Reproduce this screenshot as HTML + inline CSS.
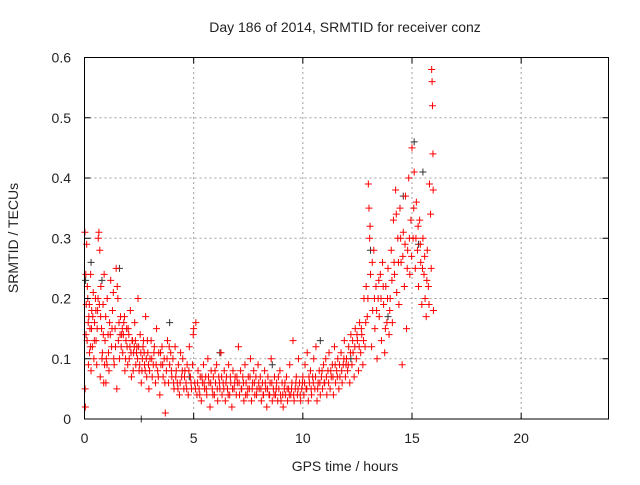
<!DOCTYPE html>
<html><head><meta charset="utf-8"><style>
body{margin:0;background:#fff}
svg text{font-family:"Liberation Sans",sans-serif;font-size:14px;fill:#222}
</style></head><body>
<svg id="chart" width="640" height="480" xmlns="http://www.w3.org/2000/svg">
<text x="345" y="32" text-anchor="middle">Day 186 of 2014, SRMTID for receiver conz</text>
<text transform="translate(18,238) rotate(-90)" text-anchor="middle">SRMTID / TECUs</text>
<text x="345" y="471" text-anchor="middle">GPS time / hours</text>
<g id="grid"></g>
<g id="darkpts"></g>
<g id="redpts"></g>
<rect x="84.5" y="57.5" width="524" height="361.5" fill="none" stroke="#000" stroke-width="1"/>
<g id="ticks"></g>
</svg>
<script>
const xTicks=[0,5,10,15,20];
const yTicks=[0,0.1,0.2,0.3,0.4,0.5,0.6];
const yTickLabels=["0","0.1","0.2","0.3","0.4","0.5","0.6"];
const redSamples=[[0.02,0.31],[0.04,0.02],[0.06,0.24],[0.08,0.19],[0.1,0.29],[0.12,0.13],[0.15,0.2],[0.18,0.09],[0.2,0.17],[0.23,0.11],[0.25,0.15],[0.28,0.24],[0.3,0.08],[0.33,0.18],[0.36,0.12],[0.4,0.21],[0.43,0.1],[0.46,0.16],[0.5,0.2],[0.53,0.13],[0.56,0.09],[0.6,0.18],[0.63,0.3],[0.66,0.31],[0.7,0.28],[0.72,0.07],[0.75,0.22],[0.78,0.15],[0.82,0.11],[0.85,0.19],[0.88,0.06],[0.9,0.24],[0.94,0.13],[0.97,0.17],
[1.0,0.1],[1.04,0.2],[1.08,0.14],[1.12,0.08],[1.15,0.16],[1.2,0.23],[1.24,0.12],[1.28,0.18],[1.32,0.21],[1.36,0.09],[1.4,0.15],[1.45,0.25],[1.5,0.22],[1.55,0.13],[1.6,0.1],[1.65,0.17],[1.7,0.14],[1.75,0.11],[1.8,0.16],[1.85,0.08],[1.9,0.13],[1.95,0.12],
[2.0,0.15],[2.05,0.1],[2.1,0.18],[2.15,0.07],[2.2,0.13],[2.25,0.11],[2.3,0.16],[2.35,0.09],[2.4,0.12],[2.45,0.2],[2.5,0.08],[2.55,0.14],[2.6,0.06],[2.65,0.1],[2.7,0.13],[2.75,0.09],[2.8,0.17],[2.85,0.07],[2.9,0.11],[2.95,0.05],
[3.0,0.1],[3.05,0.13],[3.1,0.07],[3.15,0.09],[3.2,0.12],[3.25,0.06],[3.3,0.15],[3.35,0.08],[3.4,0.11],[3.45,0.04],[3.5,0.09],[3.55,0.12],[3.6,0.07],[3.65,0.1],[3.7,0.01],[3.75,0.08],[3.8,0.13],[3.85,0.06],[3.9,0.09],[3.95,0.11],
[4.0,0.07],[4.05,0.1],[4.1,0.05],[4.15,0.12],[4.2,0.08],[4.25,0.06],[4.3,0.09],[4.35,0.04],[4.4,0.11],[4.45,0.07],[4.5,0.1],[4.55,0.05],[4.6,0.08],[4.65,0.06],[4.7,0.09],[4.75,0.04],[4.8,0.12],[4.85,0.07],[4.9,0.05],[4.95,0.09],
[5.0,0.15],[5.05,0.06],[5.1,0.16],[5.15,0.04],[5.2,0.08],[5.25,0.05],[5.3,0.07],[5.35,0.03],[5.4,0.06],[5.45,0.09],[5.5,0.05],[5.55,0.07],[5.6,0.04],[5.65,0.1],[5.7,0.06],[5.75,0.02],[5.8,0.08],[5.85,0.05],[5.9,0.07],[5.95,0.04],
[6.0,0.06],[6.05,0.09],[6.1,0.03],[6.15,0.07],[6.2,0.05],[6.25,0.11],[6.3,0.04],[6.35,0.06],[6.4,0.08],[6.45,0.03],[6.5,0.07],[6.55,0.05],[6.6,0.09],[6.65,0.04],[6.7,0.06],[6.75,0.02],[6.8,0.08],[6.85,0.05],[6.9,0.07],[6.95,0.04],
[7.0,0.06],[7.05,0.12],[7.1,0.04],[7.15,0.08],[7.2,0.05],[7.25,0.07],[7.3,0.03],[7.35,0.09],[7.4,0.06],[7.45,0.04],[7.5,0.07],[7.55,0.05],[7.6,0.1],[7.65,0.03],[7.7,0.06],[7.75,0.08],[7.8,0.04],[7.85,0.07],[7.9,0.05],[7.95,0.09],
[8.0,0.05],[8.05,0.07],[8.1,0.03],[8.15,0.06],[8.2,0.04],[8.25,0.08],[8.3,0.05],[8.35,0.02],[8.4,0.07],[8.45,0.04],[8.5,0.06],[8.55,0.1],[8.6,0.03],[8.65,0.05],[8.7,0.07],[8.75,0.04],[8.8,0.06],[8.85,0.03],[8.9,0.05],[8.95,0.08],
[9.0,0.03],[9.05,0.06],[9.1,0.02],[9.15,0.05],[9.2,0.04],[9.25,0.07],[9.3,0.03],[9.35,0.05],[9.4,0.09],[9.45,0.04],[9.5,0.06],[9.55,0.13],[9.6,0.03],[9.65,0.05],[9.7,0.07],[9.75,0.04],[9.8,0.1],[9.85,0.06],[9.9,0.03],[9.95,0.05],
[10.0,0.07],[10.05,0.04],[10.1,0.09],[10.15,0.05],[10.2,0.11],[10.25,0.03],[10.3,0.06],[10.35,0.08],[10.4,0.04],[10.45,0.07],[10.5,0.1],[10.55,0.05],[10.6,0.12],[10.65,0.03],[10.7,0.06],[10.75,0.08],[10.8,0.04],[10.85,0.07],[10.9,0.05],[10.95,0.09],
[11.0,0.06],[11.05,0.1],[11.1,0.04],[11.15,0.08],[11.2,0.11],[11.25,0.05],[11.3,0.07],[11.35,0.09],[11.4,0.04],[11.45,0.12],[11.5,0.06],[11.55,0.08],[11.6,0.1],[11.65,0.05],[11.7,0.07],[11.75,0.11],[11.8,0.06],[11.85,0.09],[11.9,0.13],[11.95,0.07],
[12.0,0.1],[12.05,0.08],[12.1,0.12],[12.15,0.06],[12.2,0.14],[12.25,0.09],[12.3,0.11],[12.35,0.07],[12.4,0.15],[12.45,0.1],[12.5,0.13],[12.55,0.08],[12.6,0.16],[12.65,0.11],[12.7,0.14],[12.75,0.09],[12.8,0.2],[12.85,0.12],[12.9,0.22],[12.95,0.17],
[13.0,0.39],[13.03,0.35],[13.06,0.3],[13.1,0.24],[13.15,0.12],[13.2,0.18],[13.25,0.28],[13.3,0.15],[13.35,0.22],[13.4,0.1],[13.45,0.2],[13.5,0.17],[13.55,0.24],[13.6,0.13],[13.65,0.26],[13.7,0.19],[13.75,0.11],[13.8,0.22],[13.85,0.16],[13.9,0.25],[13.95,0.14],
[14.0,0.2],[14.05,0.28],[14.1,0.16],[14.15,0.33],[14.2,0.24],[14.25,0.38],[14.3,0.21],[14.35,0.3],[14.4,0.19],[14.45,0.35],[14.5,0.26],[14.55,0.09],[14.6,0.31],[14.65,0.22],[14.7,0.37],[14.75,0.15],[14.8,0.28],[14.85,0.4],[14.9,0.24],[14.95,0.33],
[15.0,0.45],[15.05,0.3],[15.1,0.41],[15.15,0.25],[15.2,0.36],[15.25,0.28],[15.3,0.22],[15.35,0.33],[15.4,0.26],[15.45,0.19],[15.5,0.3],[15.55,0.24],[15.6,0.2],[15.65,0.17],[15.7,0.28],[15.75,0.22],[15.8,0.39],[15.85,0.34],[15.9,0.58],[15.92,0.56],[15.94,0.52],[15.96,0.44],[15.98,0.18]];
const redSamplesB=[[0.03,0.05],[0.07,0.14],[0.13,0.22],[0.17,0.16],[0.22,0.19],[0.27,0.12],[0.32,0.15],[0.38,0.17],[0.45,0.13],[0.52,0.18],[0.58,0.15],[0.62,0.2],[0.68,0.19],[0.74,0.17],[0.8,0.1],[0.86,0.14],[0.92,0.09],[0.98,0.06],
[1.03,0.09],[1.1,0.11],[1.18,0.14],[1.26,0.15],[1.34,0.1],[1.42,0.12],[1.48,0.05],[1.53,0.2],[1.58,0.16],[1.63,0.14],[1.68,0.12],[1.73,0.15],[1.78,0.14],[1.83,0.17],[1.88,0.1],[1.93,0.15],[1.98,0.09],
[2.03,0.14],[2.08,0.12],[2.13,0.11],[2.18,0.13],[2.23,0.08],[2.28,0.12],[2.33,0.13],[2.38,0.11],[2.43,0.1],[2.48,0.12],[2.53,0.09],[2.58,0.11],[2.63,0.08],[2.68,0.12],[2.73,0.11],[2.78,0.08],[2.83,0.1],[2.88,0.13],[2.93,0.09],[2.98,0.08],
[3.08,0.1],[3.18,0.11],[3.28,0.09],[3.38,0.07],[3.48,0.11],[3.58,0.09],[3.68,0.06],[3.78,0.1],[3.88,0.12],[3.98,0.08],[4.08,0.06],[4.18,0.07],[4.28,0.05],[4.38,0.06],[4.48,0.08],[4.58,0.07],[4.68,0.05],[4.78,0.08],[4.88,0.06],[4.98,0.14],
[5.08,0.05],[5.18,0.06],[5.28,0.04],[5.38,0.07],[5.48,0.06],[5.58,0.05],[5.68,0.07],[5.78,0.06],[5.88,0.04],[5.98,0.08],[6.08,0.05],[6.18,0.06],[6.28,0.07],[6.38,0.05],[6.48,0.06],[6.58,0.04],[6.68,0.07],[6.78,0.05],[6.88,0.06],[6.98,0.07],
[7.08,0.06],[7.18,0.05],[7.28,0.06],[7.38,0.04],[7.48,0.05],[7.58,0.07],[7.68,0.05],[7.78,0.06],[7.88,0.04],[7.98,0.06],[8.08,0.05],[8.18,0.04],[8.28,0.06],[8.38,0.05],[8.48,0.04],[8.58,0.06],[8.68,0.04],[8.78,0.05],[8.88,0.07],[8.98,0.04],
[9.08,0.04],[9.18,0.06],[9.28,0.05],[9.38,0.04],[9.48,0.05],[9.58,0.04],[9.68,0.06],[9.78,0.05],[9.88,0.04],[9.98,0.06],[10.08,0.06],[10.18,0.05],[10.28,0.07],[10.38,0.05],[10.48,0.06],[10.58,0.07],[10.68,0.05],[10.78,0.06],[10.88,0.08],[10.98,0.06],
[11.08,0.07],[11.18,0.06],[11.28,0.08],[11.38,0.07],[11.48,0.09],[11.58,0.07],[11.68,0.09],[11.78,0.08],[11.88,0.1],[11.98,0.09],[12.08,0.09],[12.18,0.11],[12.28,0.13],[12.38,0.12],[12.48,0.14],[12.58,0.12],[12.68,0.15],[12.78,0.13],[12.88,0.16],[12.98,0.2],
[13.08,0.32],[13.18,0.26],[13.28,0.2],[13.38,0.18],[13.48,0.23],[13.58,0.2],[13.68,0.22],[13.78,0.15],[13.88,0.2],[13.98,0.18],[14.08,0.23],[14.18,0.26],[14.28,0.34],[14.38,0.26],[14.48,0.3],[14.58,0.27],[14.68,0.29],[14.78,0.25],[14.88,0.3],[14.98,0.27],
[15.08,0.35],[15.18,0.3],[15.28,0.32],[15.38,0.29],[15.48,0.25],[15.58,0.27],[15.68,0.23],[15.78,0.19],[15.88,0.25],[15.97,0.38]];
const darkSamples=[[0.05,0.23],[0.3,0.26],[0.8,0.23],[1.6,0.25],[2.6,0.0],[3.9,0.16],[4.8,0.07],[6.2,0.11],[8.6,0.09],[10.8,0.13],[12.2,0.1],[13.1,0.28],[13.9,0.17],[14.6,0.37],[15.1,0.46],[15.3,0.29],[15.5,0.41]];

const X0=84.5,X1=608.5,Y0=419,Y1=57.5,XMAX=24,YMAX=0.6;
function xs(v){return X0+(X1-X0)*v/XMAX;}
function ys(v){return Y0-(Y0-Y1)*v/YMAX;}
const NS="http://www.w3.org/2000/svg";
function mk(tag,attrs,parent){const e=document.createElementNS(NS,tag);for(const k in attrs)e.setAttribute(k,attrs[k]);parent.appendChild(e);return e;}
const grid=document.getElementById('grid'),ticks=document.getElementById('ticks');
xTicks.forEach(t=>{
  const x=xs(t);
  if(t>0){const g=mk('line',{x1:x,x2:x,y1:Y0,y2:Y1,stroke:'#a0a0a0','stroke-dasharray':'2,3'},grid);
  
  }
  const tl=mk('path',{d:`M${x},${Y0}v-6M${x},${Y1}v6`,stroke:'#000'},ticks);
  
  
  const tx=mk('text',{x:x,y:443,'text-anchor':'middle'},ticks);
  tx.textContent=String(t);
  
  
});
yTicks.forEach((t,i)=>{
  const y=ys(t);
  if(t>0&&t<YMAX){const g=mk('line',{x1:X0,x2:X1,y1:y,y2:y,stroke:'#a0a0a0','stroke-dasharray':'2,3'},grid);
  
  }
  const tl=mk('path',{d:`M${X0},${y}h6M${X1},${y}h-6`,stroke:'#000'},ticks);
  
  
  const tx=mk('text',{x:71,y:y+5,'text-anchor':'end'},ticks);
  tx.textContent=yTickLabels[i];
  
  
});
function plus(parent,s,color,name){
  const x=xs(s[0]),y=ys(s[1]);
  const p=mk('path',{d:`M${x-3.5},${y}h7M${x},${y-3.5}v7`,stroke:color,'stroke-width':1},parent);
  
  
}
darkSamples.forEach(s=>plus(document.getElementById('darkpts'),s,'#333','dark-point'));
redSamples.forEach(s=>plus(document.getElementById('redpts'),s,'#ff0000','red-point'));
redSamplesB.forEach(s=>plus(document.getElementById('redpts'),s,'#ff0000','red-point'));
</script>
</body></html>
